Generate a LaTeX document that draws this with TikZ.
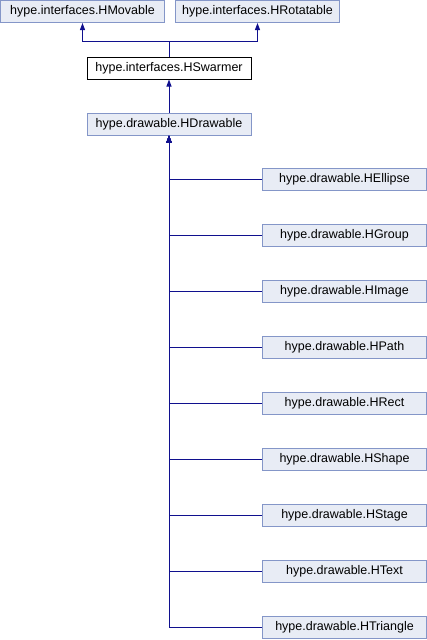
\documentclass[tikz,border=0pt]{standalone}
\usepackage{fontspec}
\setmainfont{Liberation Sans}
\usetikzlibrary{arrows.meta}
\definecolor{boxfill}{HTML}{E8ECF5}
\definecolor{boxdraw}{HTML}{8496C8}
\definecolor{edgecol}{HTML}{10108E}
\begin{document}
\begin{tikzpicture}[x=1pt,y=-1pt,
  cls/.style={draw=boxdraw,fill=boxfill,line width=1pt,rectangle,minimum width=164pt,minimum height=22pt,inner sep=0pt,font=\fontsize{12.5}{14}\selectfont},
  curcls/.style={cls,draw=black,fill=white},
  inh/.style={draw=edgecol,line width=1pt,-{Triangle[length=7pt,width=5pt]}},
  plain/.style={draw=edgecol,line width=1pt}]
\useasboundingbox (0,0) rectangle (427,640);
\node[cls] (mov) at (82.5,11.5) {hype.interfaces.HMovable};
\node[cls] (rot) at (257.5,11.5) {hype.interfaces.HRotatable};
\node[curcls] (sw) at (169,68) {hype.interfaces.HSwarmer};
\node[cls] (dr) at (169,124) {hype.drawable.HDrawable};
\coordinate (j) at (169,41);
\draw[plain] (sw.north) -- (j);
\draw[inh] (j) -| (mov.south);
\draw[inh] (j) -| (rot.south);
\draw[inh] (dr.north) -- (sw.south);
\foreach \n [count=\i from 0] in {HEllipse,HGroup,HImage,HPath,HRect,HShape,HStage,HText,HTriangle}{
  \node[cls] (c\i) at (344.5,179.5+56*\i) {hype.drawable.\n};
  \draw[inh] (c\i.west) -| (dr.south);
}
\end{tikzpicture}
\end{document}
